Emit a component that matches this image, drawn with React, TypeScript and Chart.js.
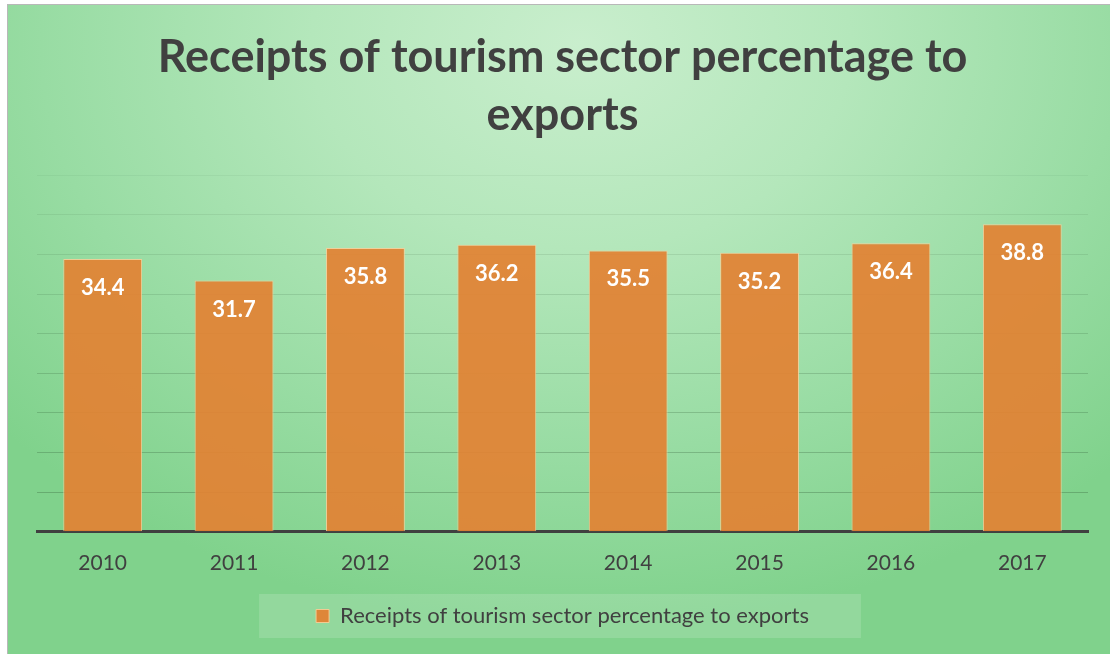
import React, { useEffect, useRef } from "react";
import { Chart, registerables } from "chart.js";

Chart.register(...registerables);

const categories = ["2010", "2011", "2012", "2013", "2014", "2015", "2016", "2017"];
const values = [34.4, 31.7, 35.8, 36.2, 35.5, 35.2, 36.4, 38.8];
const seriesName = "Receipts of tourism sector percentage to exports";
const titleLines = ["Receipts of tourism sector percentage to", "exports"];
const yMax = 45;
const yStep = 5;

const FONT = "Lato, 'Open Sans', sans-serif";

const valueLabels = {
  id: "valueLabels",
  afterDatasetsDraw(chart: any) {
    const ctx = chart.ctx;
    const meta = chart.getDatasetMeta(0);
    ctx.save();
    ctx.fillStyle = "#ffffff";
    ctx.font = `bold 22px ${FONT}`;
    ctx.textAlign = "center";
    ctx.textBaseline = "middle";
    meta.data.forEach((bar: any, i: number) => {
      ctx.fillText(values[i].toFixed(1), bar.x, bar.y + 29);
    });
    ctx.restore();
  },
};

const legendBg = {
  id: "legendBg",
  beforeDraw(chart: any) {
    const lg = chart.legend;
    if (!lg || !lg.legendHitBoxes || !lg.legendHitBoxes.length) return;
    const hb = lg.legendHitBoxes[0];
    const ctx = chart.ctx;
    const left = hb.left - 57;
    const right = hb.left + hb.width + 52;
    const cy = hb.top + hb.height / 2;
    ctx.save();
    ctx.fillStyle = "rgba(255,255,255,0.15)";
    ctx.fillRect(left, cy - 22, right - left, 44);
    ctx.restore();
  },
};

export default function App() {
  const ref = useRef<HTMLCanvasElement | null>(null);
  useEffect(() => {
    if (!ref.current) return;
    const chart = new Chart(ref.current, {
      type: "bar",
      data: {
        labels: categories,
        datasets: [
          {
            label: seriesName,
            data: values,
            backgroundColor: "rgba(226,130,52,0.93)",
            borderColor: "rgba(250,205,150,0.85)",
            borderWidth: 1,
            barPercentage: 0.6,
            categoryPercentage: 1,
          },
        ],
      },
      options: {
        animation: false,
        responsive: false,
        maintainAspectRatio: false,
        layout: { padding: { left: 29, right: 22, top: 0, bottom: 17 } },
        plugins: {
          title: {
            display: true,
            text: titleLines,
            color: "#404040",
            font: { family: FONT, size: 45, weight: "bold", lineHeight: 1.29 },
            padding: { top: 23, bottom: 31 },
          },
          legend: {
            display: true,
            position: "bottom",
            labels: {
              color: "#404040",
              font: { family: FONT, size: 22 },
              boxWidth: 13,
              boxHeight: 13,
              padding: 10,
              generateLabels: () => [
                {
                  text: seriesName,
                  fillStyle: "rgba(226,130,52,0.95)",
                  strokeStyle: "rgba(250,205,150,0.9)",
                  lineWidth: 1,
                  fontColor: "#404040",
                  datasetIndex: 0,
                } as any,
              ],
            },
          },
          tooltip: { enabled: false },
        },
        scales: {
          x: {
            grid: { display: false, drawTicks: false },
            border: { display: true, color: "#404040", width: 3 },
            ticks: {
              color: "#404040",
              font: { family: FONT, size: 21 },
              padding: 19,
            },
          },
          y: {
            min: 0,
            max: yMax,
            ticks: { display: false, stepSize: yStep },
            border: { display: false },
            grid: {
              drawTicks: false,
              lineWidth: 1,
              color: (c: any) => {
                const v = c.tick ? c.tick.value : 0;
                if (v === 0) return "rgba(0,0,0,0)";
                const a = 0.32 - (v / yMax) * 0.26;
                return `rgba(40,80,45,${a.toFixed(3)})`;
              },
            },
          },
        },
      },
      plugins: [legendBg, valueLabels],
    });
    return () => chart.destroy();
  }, []);

  return (
    <div
      style={{
        position: "absolute",
        left: 7,
        top: 4,
        width: 1102,
        height: 649,
        borderLeft: "1px solid #b8b8b8",
        borderTop: "1px solid #b8b8b8",
        background:
          "radial-gradient(ellipse 70% 90% at 52% 6%, #c9eecd 0%, #b4e7bb 35%, #98dca3 70%, #80d28c 100%)",
        overflow: "hidden",
      }}
    >
      <canvas ref={ref} width={1102} height={649} style={{ display: "block" }} />
    </div>
  );
}
